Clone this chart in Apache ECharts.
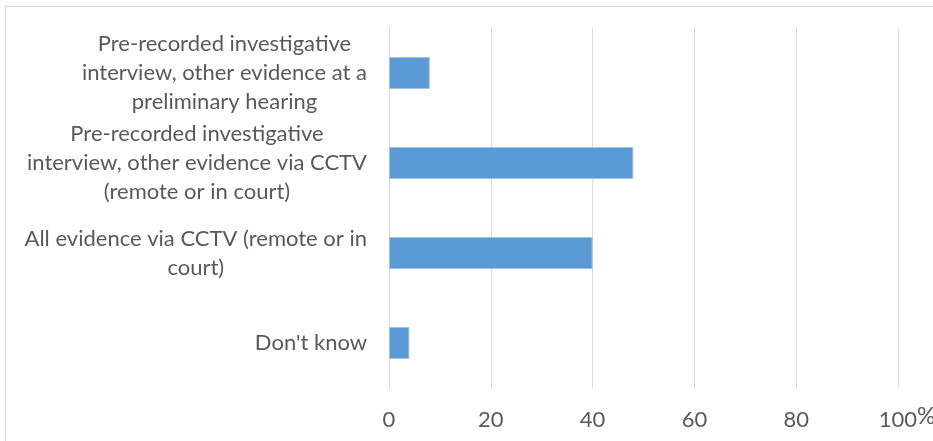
<!DOCTYPE html>
<html>
<head>
<meta charset="utf-8">
<script src="https://cdn.jsdelivr.net/npm/echarts@6/dist/echarts.min.js"></script>
<style>
  html, body { margin: 0; padding: 0; background: #fff; }
  #main { width: 933px; height: 441px; }
</style>
</head>
<body>
<div id="main"></div>
<script>
// categories, top to bottom
var categories = [
  'Pre-recorded investigative\ninterview, other evidence at a\npreliminary hearing',
  'Pre-recorded investigative\ninterview, other evidence via CCTV\n(remote or in court)',
  'All evidence via CCTV (remote or in\ncourt)',
  "Don't know"
];
var values = [8, 48, 40, 4];
var xTicks = [0, 20, 40, 60, 80, 100];

var FONT = 'Lato';
var textColor = '#595959';
var gridColor = '#d9d9d9';

var chart = echarts.init(document.getElementById('main'));

chart.setOption({
  backgroundColor: '#fff',
  animation: false,
  textStyle: { fontFamily: FONT },
  graphic: [{
    type: 'rect',
    shape: { x: 5.5, y: 6.5, width: 940, height: 460 },
    style: { fill: 'none', stroke: gridColor, lineWidth: 1 },
    silent: true
  }],
  grid: { left: 389, right: 35, top: 28, bottom: 53, outerBoundsMode: 'none', containLabel: false },
  xAxis: {
    type: 'value',
    min: xTicks[0],
    max: xTicks[xTicks.length - 1],
    interval: 20,
    axisLine: { show: false },
    axisTick: { show: false },
    splitLine: { lineStyle: { color: gridColor, width: 1 } },
    axisLabel: {
      margin: 17,
      color: textColor,
      fontSize: 22,
      fontFamily: FONT,
      formatter: function (v) {
        // last tick carries the unit, slightly raised
        if (v === xTicks[xTicks.length - 1]) return '{s|}{n|' + v + '}{p|%}';
        return '{n|' + v + '}';
      },
      rich: {
        n: { fontSize: 22, lineHeight: 30, fontFamily: FONT, color: textColor },
        s: { width: 18, lineHeight: 30 },
        p: { fontSize: 23, lineHeight: 30, verticalAlign: 'top', fontFamily: FONT, color: textColor }
      }
    }
  },
  yAxis: {
    type: 'category',
    inverse: true,
    data: categories,
    axisLine: { show: true, lineStyle: { color: gridColor } },
    axisTick: { show: false },
    axisLabel: {
      margin: 22,
      color: textColor,
      formatter: function (v) {
        return v.split('\n').map(function (l) { return '{c|' + l + '}'; }).join('\n');
      },
      rich: {
        c: { align: 'center', fontSize: 22, lineHeight: 29, fontFamily: FONT, color: textColor }
      }
    }
  },
  series: [{
    type: 'bar',
    data: values,
    barWidth: 32,
    itemStyle: { color: '#5b9bd5', borderColor: '#9dc3e6', borderWidth: 1 }
  }]
});
</script>
</body>
</html>
